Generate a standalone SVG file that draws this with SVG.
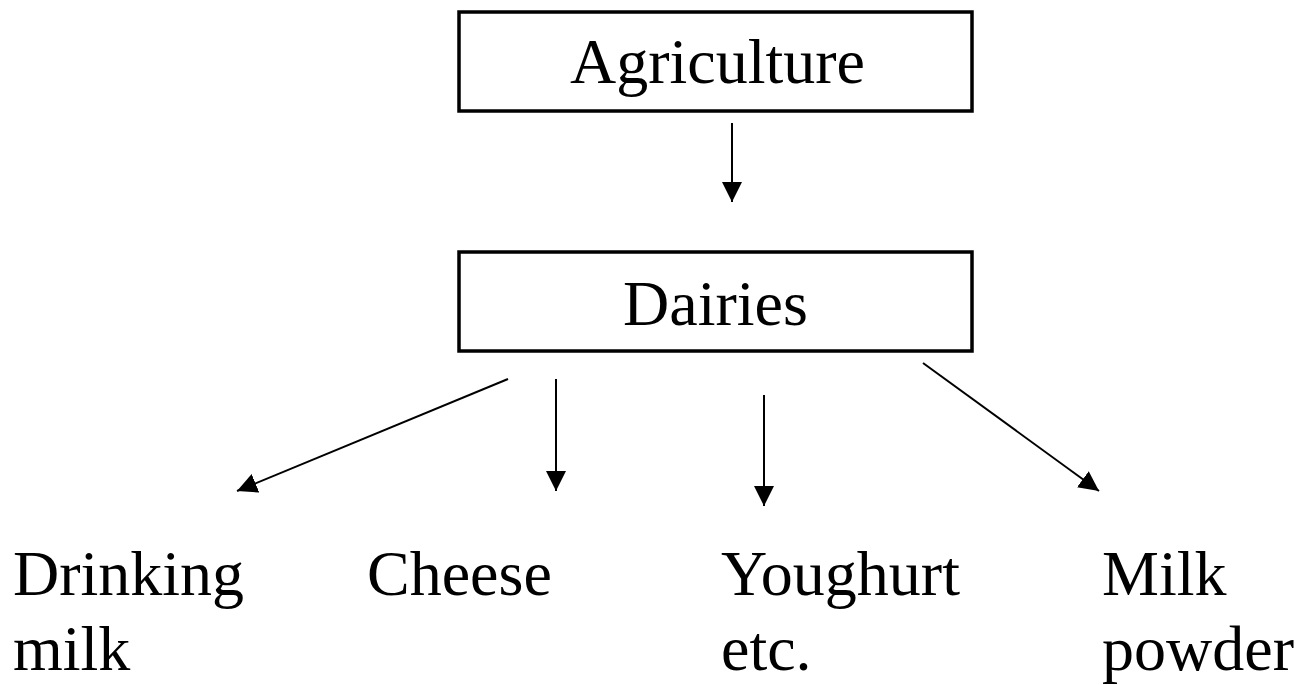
<svg xmlns="http://www.w3.org/2000/svg" width="1303" height="685" viewBox="0 0 1303 685">
<defs>
<style>
.box{fill:#fff;stroke:#000;stroke-width:3.5}
.t{font-family:"Liberation Serif","Times New Roman",serif;font-size:64px;fill:#000}
.c{stroke:#000;stroke-width:2;fill:none}
</style>
<marker id="ah" viewBox="0 0 20 20" refX="20" refY="10" markerWidth="20" markerHeight="20" markerUnits="userSpaceOnUse" orient="auto">
<path d="M0,0 L20,10 L0,20 Z" fill="#000"/>
</marker>
</defs>
<rect width="1303" height="685" fill="#fff"/>
<g id="agriculture">
<rect class="box" x="459" y="12" width="513" height="99"/>
<text class="t" x="570" y="83">Agriculture</text>
</g>
<g id="dairies">
<rect class="box" x="459" y="252" width="513" height="99"/>
<text class="t" x="623" y="325">Dairies</text>
</g>
<g id="drinking-milk">
<text class="t" x="13" y="595">Drinking</text>
<text class="t" x="13" y="670">milk</text>
</g>
<g id="cheese">
<text class="t" x="367" y="595">Cheese</text>
</g>
<g id="youghurt">
<text class="t" x="721" y="595">Youghurt</text>
<text class="t" x="721" y="670">etc.</text>
</g>
<g id="milk-powder">
<text class="t" x="1102" y="595">Milk</text>
<text class="t" x="1102" y="670">powder</text>
</g>
<g id="connectors">
<line class="c" x1="732" y1="123" x2="732" y2="202" marker-end="url(#ah)"/>
<line class="c" x1="508" y1="379" x2="237" y2="491" marker-end="url(#ah)"/>
<line class="c" x1="556" y1="379" x2="556" y2="491" marker-end="url(#ah)"/>
<line class="c" x1="764" y1="395" x2="764" y2="506" marker-end="url(#ah)"/>
<line class="c" x1="923" y1="363" x2="1099" y2="491" marker-end="url(#ah)"/>
</g>
</svg>
